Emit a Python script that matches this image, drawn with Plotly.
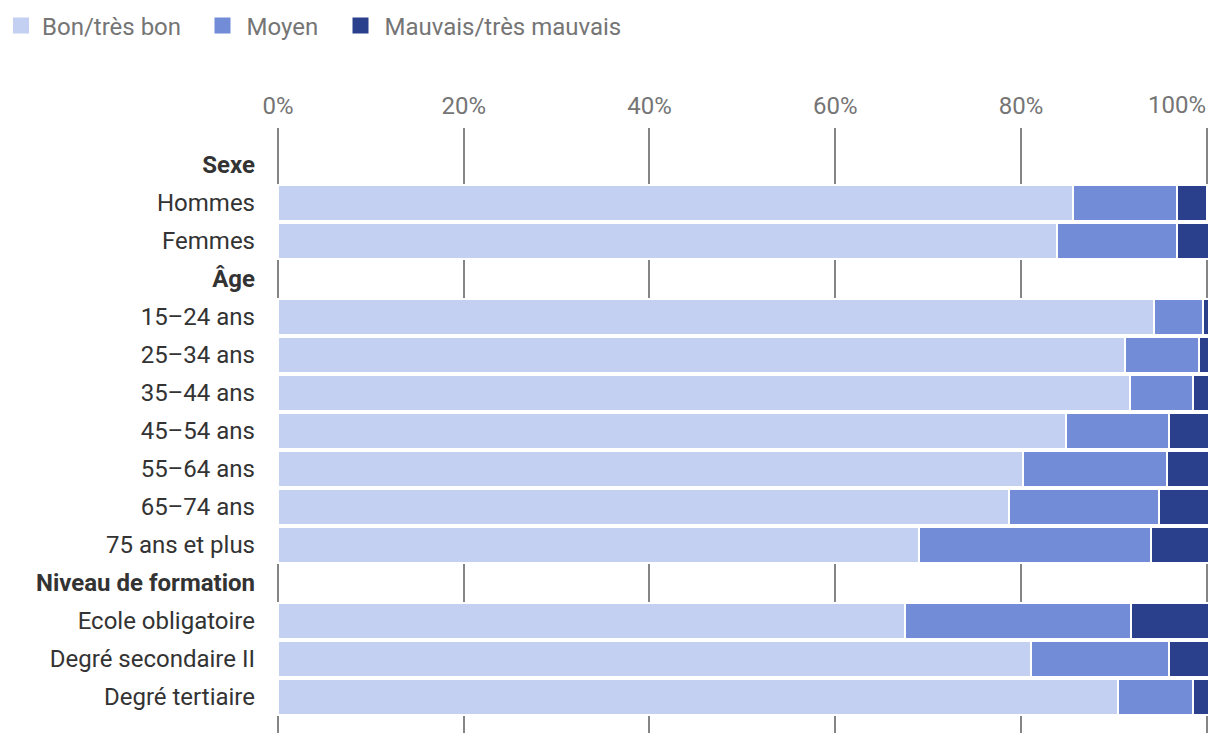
import plotly.graph_objects as go

categories = ["Sexe", "Hommes", "Femmes", "Âge", "15–24 ans", "25–34 ans", "35–44 ans",
              "45–54 ans", "55–64 ans", "65–74 ans", "75 ans et plus", "Niveau de formation",
              "Ecole obligatoire", "Degré secondaire II", "Degré tertiaire"]
headers = ["Sexe", "Âge", "Niveau de formation"]

bon = [None, 85.6, 83.9, None, 94.3, 91.2, 91.7, 84.8, 80.2, 78.7, 69.0, None, 67.5, 81.1, 90.5]
moyen = [None, 11.2, 12.9, None, 5.3, 8.0, 6.8, 11.1, 15.5, 16.2, 25.0, None, 24.4, 14.8, 8.0]
mauvais = [None, 3.2, 3.4, None, 0.6, 1.0, 1.7, 4.3, 4.5, 5.3, 6.2, None, 8.3, 4.3, 1.7]

series_names = ["Bon/très bon", "Moyen", "Mauvais/très mauvais"]
colors = ["#C3D0F2", "#728CD7", "#2B408D"]

x_ticks = [0, 20, 40, 60, 80, 100]
x_ticklabels = ["0%", "20%", "40%", "60%", "80%", "100%"]

fig = go.Figure()
for name, vals, col in zip(series_names, [bon, moyen, mauvais], colors):
    fig.add_trace(go.Bar(
        y=categories, x=vals, name=name, orientation="h",
        marker=dict(color=col, line=dict(color="white", width=2)),
        width=0.95, showlegend=False, hoverinfo="x+y"))

legend_ids = ["legend", "legend2", "legend3"]
for name, col, lid in zip(series_names, colors, legend_ids):
    fig.add_trace(go.Scatter(
        x=[None], y=[None], mode="markers", name=name, legend=lid,
        marker=dict(symbol="square", size=16, color=col), showlegend=True))

ticktext = [f"<b>{c}</b>" if c in headers else c for c in categories]

PLOT_L, PLOT_W = 275, 934
legend_common = dict(orientation="h", xref="paper", yref="container", y=0.9955,
                     xanchor="left", yanchor="top",
                     font=dict(family="Roboto", size=24, color="#757575"),
                     itemclick=False, itemdoubleclick=False, bgcolor="rgba(0,0,0,0)")

# last tick label is right-aligned on its gridline, as in the original
shown_ticktext = x_ticklabels[:-1] + [""]

fig.update_layout(
    barmode="stack",
    width=1220, height=746,
    margin=dict(l=PLOT_L, r=1220 - PLOT_L - PLOT_W, t=128, b=13),
    paper_bgcolor="white", plot_bgcolor="white",
    font=dict(family="Roboto", size=24, color="#333333"),
    legend=dict(x=(0 - PLOT_L) / PLOT_W, itemwidth=32, **legend_common),
    legend2=dict(x=(198.5 - PLOT_L) / PLOT_W, itemwidth=38, **legend_common),
    legend3=dict(x=(336.5 - PLOT_L) / PLOT_W, itemwidth=38, **legend_common),
    xaxis=dict(side="top", range=[-0.323, 100.25], tickmode="array", tickvals=x_ticks,
               ticktext=shown_ticktext,
               showgrid=True, gridcolor="#858585", gridwidth=2, zeroline=False,
               showline=False, ticks="", ticklabelstandoff=8,
               tickfont=dict(size=24, color="#757575"),
               fixedrange=True),
    yaxis=dict(type="category", categoryorder="array", categoryarray=categories,
               range=[14.95, -0.97], tickvals=categories, ticktext=ticktext,
               showgrid=False, zeroline=False, showline=False, ticks="",
               ticklabelstandoff=19, tickfont=dict(size=24, color="#333333"),
               fixedrange=True),
    annotations=[dict(x=x_ticks[-1], y=1, xref="x", yref="paper", text=x_ticklabels[-1],
                      showarrow=False, xanchor="right", yanchor="middle", yshift=23,
                      xshift=1, font=dict(family="Roboto", size=24, color="#757575"))],
)

fig.write_html("out.html", post_script="document.body.style.margin='0';",
               config={"displayModeBar": False})
